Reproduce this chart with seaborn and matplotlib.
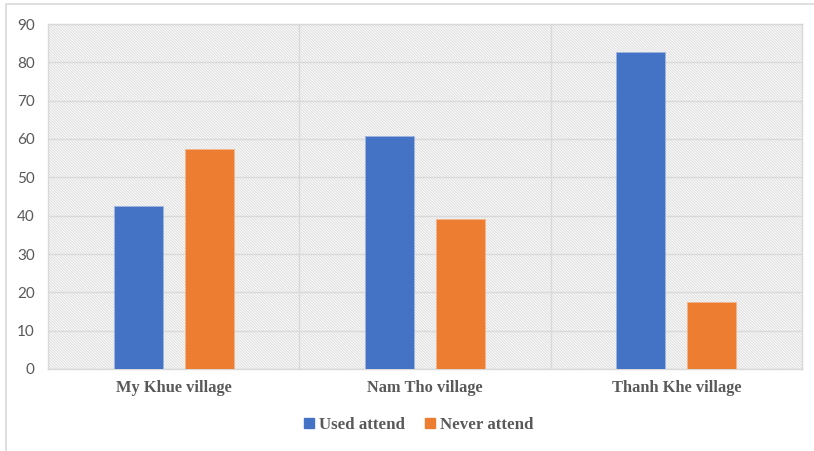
import matplotlib
matplotlib.use("Agg")
import matplotlib.pyplot as plt
from matplotlib.patches import Rectangle
from matplotlib.lines import Line2D
import seaborn as sns
import pandas as pd

villages = ["My Khue village", "Nam Tho village", "Thanh Khe village"]
used_attend = [42.6, 60.9, 82.6]
never_attend = [57.4, 39.1, 17.4]
series_names = ["Used attend", "Never attend"]
y_ticks = [0, 10, 20, 30, 40, 50, 60, 70, 80, 90]

df = pd.DataFrame({
    "village": villages * 2,
    "share": used_attend + never_attend,
    "group": [series_names[0]] * 3 + [series_names[1]] * 3,
})

sns.set_theme(style="white")
plt.rcParams["hatch.linewidth"] = 0.7
plt.rcParams["hatch.color"] = "#dedede"

fig = plt.figure(figsize=(8.14, 4.51), dpi=100)
ax = fig.add_axes([48 / 814, 1 - 369 / 451, 754 / 814, 345 / 451])

palette = {"Used attend": "#4472C4", "Never attend": "#ED7D31"}
sns.barplot(data=df, x="village", y="share", hue="group", order=villages,
            hue_order=series_names, palette=palette, width=0.566, gap=0.31,
            saturation=1, edgecolor="#9db4e0", linewidth=0.6, ax=ax,
            legend=False, zorder=3)
for bar in ax.patches[3:6]:
    bar.set_edgecolor("#f3b58a")

# hatched plot-area background
ax.add_patch(Rectangle((0, 0), 1, 1, transform=ax.transAxes, facecolor="#fbfbfb",
                       edgecolor="#dedede", hatch="\\" * 12, linewidth=0, zorder=0))

ax.set_xlim(-0.5, 2.5)
ax.set_ylim(0, 90)
ax.set_yticks(y_ticks)
ax.set_xticks([0.5, 1.5], minor=True)
ax.grid(axis="y", which="major", color="#d9d9d9", linewidth=1, zorder=1)
ax.grid(axis="x", which="minor", color="#d9d9d9", linewidth=1, zorder=1)
ax.set_axisbelow(False)
for s in ax.spines.values():
    s.set_color("#d9d9d9")
    s.set_linewidth(1)
ax.set_xlabel("")
ax.set_ylabel("")

ax.tick_params(axis="y", which="both", length=0, pad=9.5, labelsize=11,
               labelcolor="#595959")
ax.tick_params(axis="x", which="both", length=0, pad=8)
for lbl in ax.get_yticklabels():
    lbl.set_fontfamily("Lato")
for lbl in ax.get_xticklabels():
    lbl.set_fontfamily("Liberation Serif")
    lbl.set_fontweight("bold")
    lbl.set_fontsize(11.8)
    lbl.set_color("#595959")

handles = [Line2D([], [], marker="s", linestyle="", markersize=7,
                  markerfacecolor=palette[n], markeredgecolor=palette[n])
           for n in series_names]
fig.legend(handles, series_names, loc="center", bbox_to_anchor=(417 / 814, 1 - 425 / 451),
           ncol=2, frameon=False, handletextpad=0.05, columnspacing=1.0,
           handlelength=1.0,
           prop={"family": "Liberation Serif", "weight": "bold", "size": 12.2},
           labelcolor="#595959")

# chart frame
fig.add_artist(Rectangle((6 / 814, -0.1), 1.2, 1 - 4 / 451 + 0.1,
                         transform=fig.transFigure, fill=False,
                         edgecolor="#d9d9d9", linewidth=1.2))

fig.savefig("out.png", dpi=100)
